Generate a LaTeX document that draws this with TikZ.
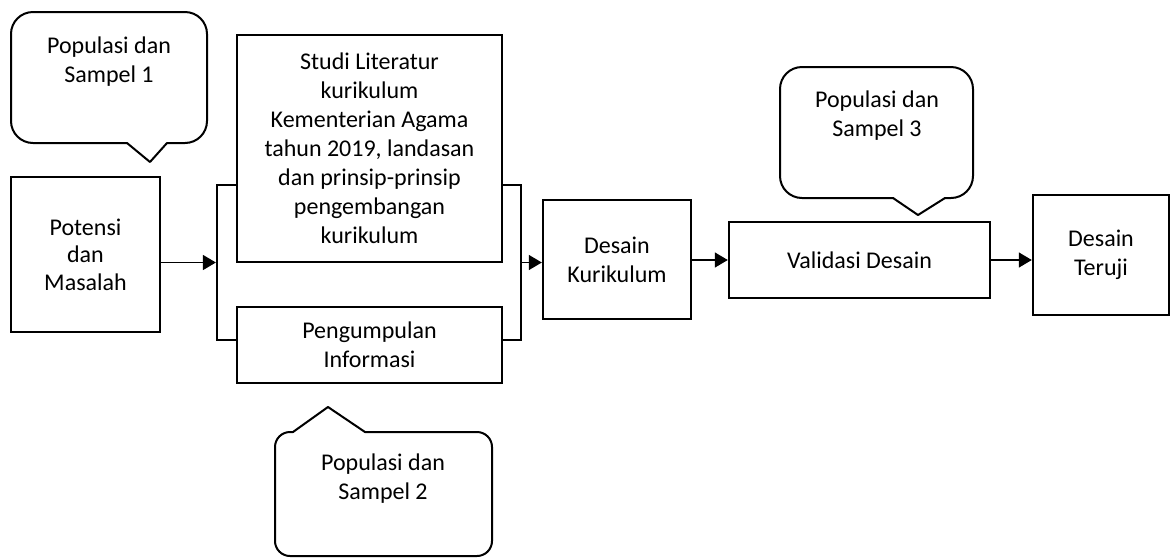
\documentclass[tikz,border=0pt]{standalone}
\usepackage{fontspec}
\setmainfont{Carlito}
\usetikzlibrary{arrows.meta}
\begin{document}
\begin{tikzpicture}[x=1pt,y=-1pt,
  txt/.style={font=\fontsize{24}{29}\selectfont, align=center, inner sep=0pt},
  box/.style={txt, draw, line width=2.4pt, fill=white},
  frame/.style={draw, line width=2.2pt, inner sep=0pt},
  callout/.style={draw, line width=2pt, line cap=round, line join=round},
  arr/.style={line width=1.4pt, -{Triangle[length=13pt,width=15pt]}}
]
\useasboundingbox (0,0) rectangle (1173,558);

% frame that groups the two parallel steps
\node[frame, minimum width=304pt, minimum height=155pt] (grp) at (369,262.5) {};

% process boxes
\node[box, font=\fontsize{24}{27.5}\selectfont, minimum width=149pt, minimum height=155pt]
  (potensi) at (85.5,254.5) {Potensi\\dan\\Masalah};
\node[box, minimum width=265pt, minimum height=227pt] (studi) at (369.5,148.5)
  {Studi Literatur\\kurikulum\\Kementerian Agama\\tahun 2019, landasan\\dan prinsip-prinsip\\pengembangan\\kurikulum};
\node[box, minimum width=265pt, minimum height=76pt] (kumpul) at (369.5,345)
  {Pengumpulan\\Informasi};
\node[box, minimum width=148pt, minimum height=119pt] (desain) at (617,259.5)
  {Desain\\Kurikulum};
\node[box, minimum width=261pt, minimum height=76pt] (valid) at (859.5,260)
  {Validasi Desain};
\node[box, minimum width=136pt, minimum height=120pt] (teruji) at (1101,255)
  {Desain\\Teruji};

% connectors
\draw[arr] (potensi.east |- grp.west) -- (grp.west);
\draw[arr] (grp.east) -- (desain.west |- grp.east);
\draw[arr] (desain.east |- valid.west) -- (valid.west);
\draw[arr] (valid.east) -- (teruji.west |- valid.east);

% callout 1 (pointer down)
\draw[callout, rounded corners=22pt] (167,143) -- (207,143) -- (207,12) -- (11,12) -- (11,143) -- (127,143);
\draw[callout] (127,143) -- (150,162) -- (167,143);
\node[txt] (pop1) at (109,62) {Populasi dan\\Sampel 1};

% callout 2 (pointer up)
\draw[callout, rounded corners=15pt] (293,432) -- (275,432) -- (275,556) -- (492,556) -- (492,432) -- (365,432);
\draw[callout] (365,432) -- (328,407) -- (293,432);
\node[txt] (pop2) at (383,479) {Populasi dan\\Sampel 2};

% callout 3 (pointer down)
\draw[callout, rounded corners=22pt] (945,198) -- (973,198) -- (973,67) -- (780,67) -- (780,198) -- (893,198);
\draw[callout] (893,198) -- (918,215) -- (945,198);
\node[txt] (pop3) at (877,116) {Populasi dan\\Sampel 3};
\end{tikzpicture}
\end{document}
